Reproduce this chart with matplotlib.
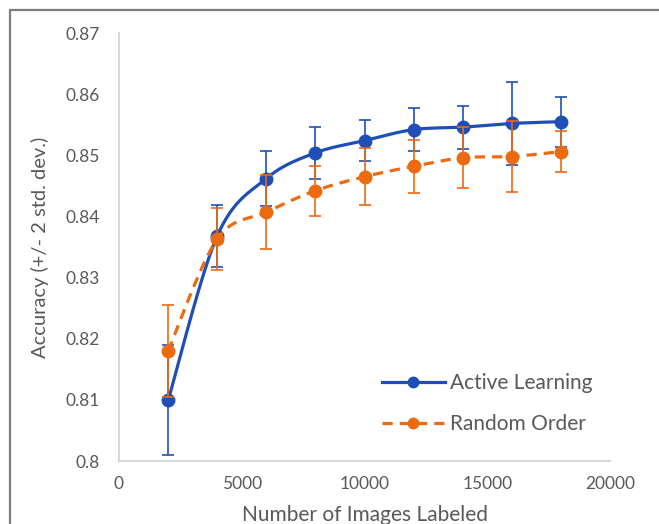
import numpy as np
import matplotlib
matplotlib.use("Agg")
import matplotlib.pyplot as plt
from matplotlib.patches import Rectangle

# ---- data ----
images_labeled = [2000, 4000, 6000, 8000, 10000, 12000, 14000, 16000, 18000]
active_acc = [0.8099, 0.8368, 0.8462, 0.8504, 0.8524, 0.8542, 0.8546, 0.8552, 0.8555]
active_err = [0.0090, 0.0051, 0.0045, 0.0043, 0.0033, 0.0035, 0.0035, 0.0068, 0.0041]
random_acc = [0.8180, 0.8363, 0.8407, 0.8442, 0.8465, 0.8482, 0.8496, 0.8498, 0.8506]
random_err = [0.0075, 0.0050, 0.0060, 0.0041, 0.0047, 0.0043, 0.0050, 0.0058, 0.0033]
x_ticks = [0, 5000, 10000, 15000, 20000]
y_ticks = [0.80, 0.81, 0.82, 0.83, 0.84, 0.85, 0.86, 0.87]
y_ticklabels = ["0.8", "0.81", "0.82", "0.83", "0.84", "0.85", "0.86", "0.87"]

BLUE = "#1F4FB6"
ORANGE = "#EC6A10"
TEXT = "#595959"

plt.rcParams['font.family'] = ['Lato', 'DejaVu Sans']


def smooth(xs, ys, n=40):
    """Excel-like smoothed line (Catmull-Rom cubic Bezier segments)."""
    p = np.column_stack([xs, ys]).astype(float)
    out = [p[0]]
    m = len(p)
    t = np.linspace(0, 1, n)[1:, None]
    for i in range(m - 1):
        p0 = p[i - 1] if i > 0 else p[i]
        p1, p2 = p[i], p[i + 1]
        p3 = p[i + 2] if i + 2 < m else p[i + 1]
        c1 = p1 + (p2 - p0) / 6.0
        c2 = p2 - (p3 - p1) / 6.0
        seg = ((1 - t) ** 3) * p1 + 3 * ((1 - t) ** 2) * t * c1 + 3 * (1 - t) * t ** 2 * c2 + t ** 3 * p2
        out.extend(seg)
    out = np.array(out)
    return out[:, 0], out[:, 1]


fig = plt.figure(figsize=(6.59, 5.24), dpi=100)
W, H = 659, 524
ax = fig.add_axes([119 / W, (H - 461) / H, (610 - 119) / W, (461 - 33) / H])

# outer frame of the picture
fig.patches.append(Rectangle((9.5 / W, -0.1), 1.2, (H - 9.5) / H + 0.1,
                             transform=fig.transFigure, fill=False,
                             edgecolor="#7F7F7F", linewidth=1.6))

DASH = (0, (3.2, 2.2))

# Active learning
sx, sy = smooth(images_labeled, active_acc)
ax.plot(sx, sy, color=BLUE, lw=2.3, zorder=3)
ax.errorbar(images_labeled, active_acc, yerr=active_err, fmt="none",
            ecolor=BLUE, elinewidth=1.2, capsize=4.5, capthick=1.2, zorder=3)
ax.plot(images_labeled, active_acc, "o", color=BLUE, ms=9, zorder=4)

# Random order
sx, sy = smooth(images_labeled, random_acc)
ax.plot(sx, sy, color=ORANGE, lw=2.3, ls=DASH, zorder=5)
ax.errorbar(images_labeled, random_acc, yerr=random_err, fmt="none",
            ecolor=ORANGE, elinewidth=1.2, capsize=4.5, capthick=1.2, zorder=5)
ax.plot(images_labeled, random_acc, "o", color=ORANGE, ms=9, zorder=6)

# legend proxies
h1, = ax.plot([], [], color=BLUE, lw=2.3, marker="o", ms=7.5, label="Active Learning")
h2, = ax.plot([], [], color=ORANGE, lw=2.3, ls=DASH, marker="o", ms=7.5,
              label="Random Order")
leg = ax.legend(handles=[h1, h2], loc="upper left",
                bbox_to_anchor=((382 - 119) / 491, (461 - 373) / 428),
                frameon=False, fontsize=15, handlelength=3.0, handletextpad=0.25,
                labelspacing=1.0, borderpad=0, borderaxespad=0, labelcolor=TEXT)

ax.set_xlim(0, 20000)
ax.set_ylim(0.80, 0.87)
ax.set_xticks(x_ticks)
ax.set_xticklabels([str(v) for v in x_ticks])
ax.set_yticks(y_ticks)
ax.set_yticklabels(y_ticklabels)
ax.tick_params(length=0, labelsize=12.5, labelcolor=TEXT, pad=14)
ax.tick_params(axis="x", pad=11)

for s in ["top", "right"]:
    ax.spines[s].set_visible(False)
ax.spines["left"].set_color("#D0D0D0")
ax.spines["bottom"].set_color("#D0D0D0")
ax.spines["left"].set_linewidth(1.2)
ax.spines["bottom"].set_linewidth(1.2)

ax.set_xlabel("Number of Images Labeled", fontsize=15, color=TEXT, labelpad=9)
ax.set_ylabel("Accuracy (+/- 2 std. dev.)", fontsize=14.5, color=TEXT, labelpad=12)

fig.savefig("out.png", dpi=100)
